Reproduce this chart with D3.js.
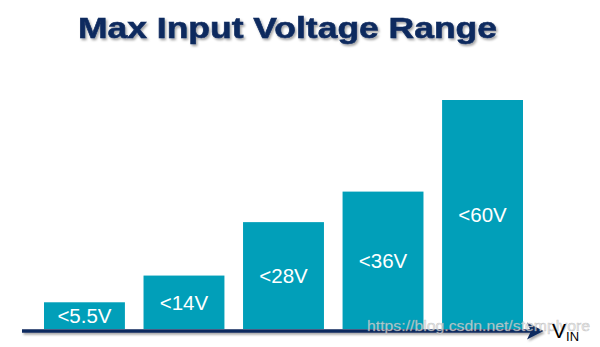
<!DOCTYPE html>
<html lang="en">
<head>
<meta charset="UTF-8" />
<title>Max Input Voltage Range</title>
<script src="https://d3js.org/d3.v7.min.js"></script>
<style>
  body { margin: 0; background: #fff; }
  svg { display: block; font-family: "Liberation Sans", Arial, sans-serif; }
</style>
</head>
<body>
<svg id="chart" width="600" height="347"></svg>
<script>
// data
const labels = ["<5.5V", "<14V", "<28V", "<36V", "<60V"];
const heights = [7, 14, 28, 36, 60];   // relative bar heights

const barColor = "#019fb9", navy = "#0c2a5e";
const svg = d3.select("#chart");
const defs = svg.append("defs");

const shadow = defs.append("filter").attr("id", "shadow")
  .attr("x", "-5%").attr("y", "-20%").attr("width", "110%").attr("height", "160%");
shadow.append("feDropShadow").attr("dx", 1.5).attr("dy", 2).attr("stdDeviation", 1.2)
  .attr("flood-color", "#000").attr("flood-opacity", 0.35);

const x = d3.scaleBand().domain(labels).range([44, 523]).paddingInner(0.187).paddingOuter(0);
const y = d3.scaleLinear().domain([0, 60]).range([329, 100]);

// title
svg.append("text")
  .attr("x", 78).attr("y", 37.5)
  .attr("textLength", 419).attr("lengthAdjust", "spacingAndGlyphs")
  .attr("font-size", 29.5).attr("font-weight", "bold")
  .attr("fill", navy).attr("stroke", navy).attr("stroke-width", 0.6)
  .attr("filter", "url(#shadow)")
  .text("Max Input Voltage Range");

// bars
const bars = svg.append("g");
bars.selectAll("rect")
  .data(labels)
  .join("rect")
  .attr("x", d => x(d))
  .attr("width", x.bandwidth())
  .attr("y", (d, i) => y(heights[i]))
  .attr("height", (d, i) => y(0) - y(heights[i]))
  .attr("fill", barColor);

bars.selectAll("text")
  .data(labels)
  .join("text")
  .attr("x", d => x(d) + x.bandwidth() / 2)
  .attr("y", (d, i) => (y(heights[i]) + y(0)) / 2)
  .attr("dy", "0.36em")
  .attr("text-anchor", "middle")
  .attr("font-size", 20.5)
  .attr("fill", "#fff")
  .text(d => d);

// axis with arrow
const axis = svg.append("g").attr("filter", "url(#shadow)");
axis.append("line")
  .attr("x1", 22).attr("x2", 534).attr("y1", 331).attr("y2", 331)
  .attr("stroke", navy).attr("stroke-width", 3.4);
axis.append("path")
  .attr("d", "M527,322.5 L543.5,331 L527,339.5 L531,331 Z")
  .attr("fill", navy);

// watermark
svg.append("text")
  .attr("x", 367).attr("y", 331)
  .attr("textLength", 223).attr("lengthAdjust", "spacingAndGlyphs")
  .attr("font-size", 14)
  .attr("fill", "#e6e6e6").attr("fill-opacity", 0.75)
  .attr("stroke", "#9a9a9a").attr("stroke-width", 0.5).attr("stroke-opacity", 0.5)
  .text("https://blog.csdn.net/stemplyore");

// V_IN label
const vin = svg.append("text").attr("x", 552).attr("y", 337.5).attr("fill", "#000");
vin.append("tspan").attr("font-size", 21).text("V");
vin.append("tspan").attr("font-size", 13).attr("dy", 3).text("IN");
</script>
</body>
</html>
